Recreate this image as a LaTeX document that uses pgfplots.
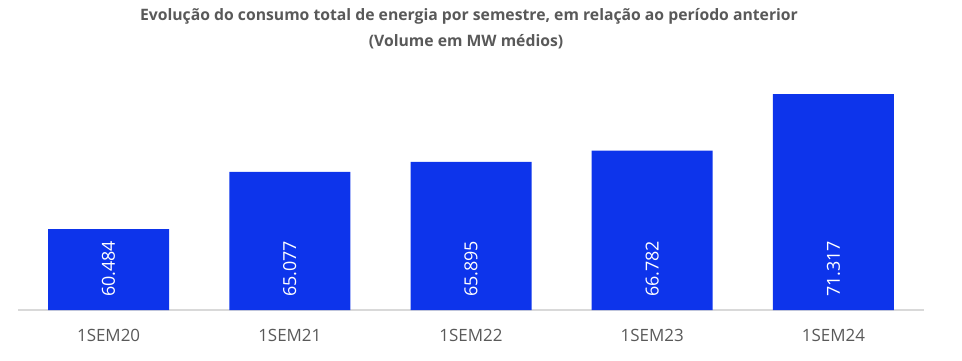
\documentclass[border=0pt]{standalone}
\usepackage{pgfplots}
\pgfplotsset{compat=1.18}
\usepackage{fontspec}
\setmainfont{Open Sans}
\definecolor{barblue}{RGB}{13,52,235}
\definecolor{txtgray}{RGB}{89,89,89}
\definecolor{axgray}{RGB}{217,217,217}
\begin{document}
\begin{tikzpicture}[x=1bp,y=1bp]
\useasboundingbox (0,0) rectangle (962,360);
\node[text=txtgray, font=\fontsize{15.8}{18}\selectfont\bfseries] at (469,344) {Evolução do consumo total de energia por semestre, em relação ao período anterior};
\node[text=txtgray, font=\fontsize{15.8}{18}\selectfont\bfseries] at (466,318) {(Volume em MW médios)};
\begin{axis}[
  at={(18bp,50bp)}, anchor=south west,
  scale only axis, width=906bp, height=249.2bp,
  xmin=-0.5, xmax=4.5, ymin=54, ymax=74,
  axis y line=none, axis x line*=bottom,
  x axis line style={axgray, line width=1.5bp, -},
  xtick={0,1,2,3,4},
  xticklabels={1SEM20,1SEM21,1SEM22,1SEM23,1SEM24},
  major tick length=0pt,
  xticklabel style={text=txtgray, font=\fontsize{17}{20}\selectfont, anchor=center, yshift=-25bp},
  clip=false,
]
\addplot[ybar, bar width=121bp, fill=barblue, draw=none] coordinates {
  (0,60.484) (1,65.077) (2,65.895) (3,66.782) (4,71.317)
};
\addplot[draw=none, mark=none, nodes near coords, point meta=explicit symbolic,
  every node near coord/.style={rotate=90, anchor=west, xshift=13bp, inner sep=0pt, text=white, font=\fontsize{18}{20}\selectfont}]
  coordinates {
  (0,54) [60.484] (1,54) [65.077] (2,54) [65.895] (3,54) [66.782] (4,54) [71.317]
};
\end{axis}
\end{tikzpicture}
\end{document}
